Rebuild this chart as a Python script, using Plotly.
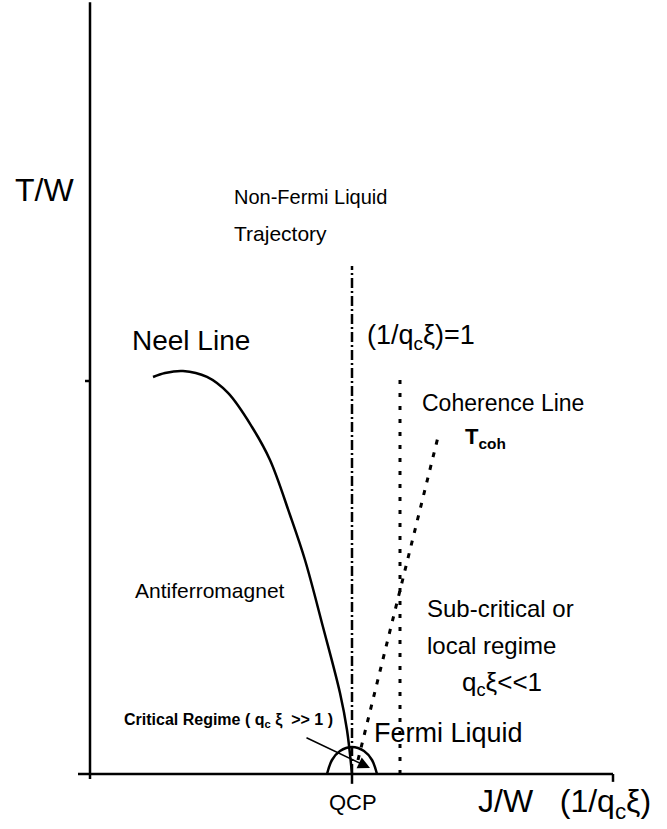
import plotly.graph_objects as go

# ---- data (x = J/W, QCP at 1 ; y = T/W, tick at 1) ----
neel_x = [0.2405, 0.2863, 0.3550, 0.4466, 0.5267, 0.6183, 0.6870, 0.7634, 0.8206, 0.8893, 0.9542, 0.9809, 1.0]
neel_y = [1.0102, 1.0204, 1.0254, 1.0102, 0.9695, 0.8830, 0.7990, 0.6590, 0.5445, 0.3740, 0.2061, 0.1120, 0.0]

nfl_x = [1.0, 1.0]
nfl_y = [0.0, 1.2926]

xi_x = [1.1832, 1.1832]
xi_y = [0.0, 1.0153]

coh_x = [1.0229, 1.3320]
coh_y = [0.0356, 0.8677]

arc_x = [0.9046, 0.9237, 0.9542, 1.0, 1.0458, 1.0763, 1.0954]
arc_y = [0.0, 0.0356, 0.0585, 0.0687, 0.0585, 0.0356, 0.0]

xaxis_x = [-0.0458, 1.9962]
yaxis_y = [-0.0127, 1.964]
x_ticks = [1.0, 1.9962]
y_ticks = [1.0]

W, H = 667, 829
X0, Y0, SX, SY = 90, 774, 262, 393
xr = [(0 - X0) / SX, (W - X0) / SX]
yr = [(Y0 - H) / SY, Y0 / SY]

fig = go.Figure()
blk = "black"
fig.add_trace(go.Scatter(x=xaxis_x, y=[0, 0], mode="lines", line=dict(color=blk, width=2.5)))
fig.add_trace(go.Scatter(x=[0, 0], y=yaxis_y, mode="lines", line=dict(color=blk, width=2.5)))
for t in x_ticks:
    fig.add_trace(go.Scatter(x=[t, t], y=[0, -0.025 if t == 1.0 else -0.02], mode="lines",
                             line=dict(color=blk, width=2.5)))
for t in y_ticks:
    fig.add_trace(go.Scatter(x=[-0.019, 0], y=[t, t], mode="lines", line=dict(color=blk, width=2.5)))

fig.add_trace(go.Scatter(x=neel_x, y=neel_y, mode="lines", line=dict(color=blk, width=2.5, shape="spline")))
fig.add_trace(go.Scatter(x=nfl_x, y=nfl_y, mode="lines", line=dict(color=blk, width=2.5, dash="10px,3px,2px,3px")))
fig.add_trace(go.Scatter(x=xi_x, y=xi_y, mode="lines", line=dict(color=blk, width=3, dash="4px,9px")))
fig.add_trace(go.Scatter(x=coh_x, y=coh_y, mode="lines", line=dict(color=blk, width=3, dash="5px,8px")))
fig.add_trace(go.Scatter(x=arc_x, y=arc_y, mode="lines", line=dict(color=blk, width=2.5, shape="spline")))

F = "Liberation Sans, Arial, sans-serif"

def lab(px, py, text, size, anchor="left"):
    fig.add_annotation(x=px / W, y=1 - py / H, xref="paper", yref="paper", text=text,
                       showarrow=False, xanchor=anchor, yanchor="middle",
                       font=dict(family=F, size=size, color="black"))

lab(13, 190, "T/W", 32)
lab(232, 197, "Non-Fermi Liquid", 20)
lab(232, 233, "Trajectory", 21)
lab(130, 340, "Neel Line", 28)
lab(365, 337, "(1/q<sub>c</sub>ξ)=1", 27)
lab(420, 403, "Coherence Line", 23)
lab(463, 438, "<b>T<sub>coh</sub></b>", 22)
lab(133, 590, "Antiferromagnet", 21)
lab(425, 608, "Sub-critical or", 24)
lab(425, 645, "local regime", 24)
lab(460, 683, "q<sub>c</sub>ξ<<1", 26)
lab(122, 720, "<b>Critical Regime ( q<sub>c</sub> ξ &nbsp;>> 1 )</b>", 16)
lab(372, 733, "Fermi Liquid", 27)
lab(353, 802, "QCP", 22, anchor="center")
lab(476, 803, "J/W&nbsp;&nbsp;&nbsp;(1/q<sub>c</sub>ξ)", 32)

fig.add_annotation(x=1.0687, y=0.0153, ax=0.8206, ay=0.0941, xref="x", yref="y", axref="x", ayref="y",
                   text="", showarrow=True, arrowhead=2, arrowsize=1.6, arrowwidth=1.5, arrowcolor="black")

fig.update_layout(width=W, height=H, margin=dict(l=0, r=0, t=0, b=0), showlegend=False,
                  plot_bgcolor="white", paper_bgcolor="white",
                  xaxis=dict(range=xr, visible=False, fixedrange=True),
                  yaxis=dict(range=yr, visible=False, fixedrange=True))
fig.write_html("out.html", config={"displayModeBar": False},
               post_script="document.body.style.margin='0';document.body.style.overflow='hidden';")
